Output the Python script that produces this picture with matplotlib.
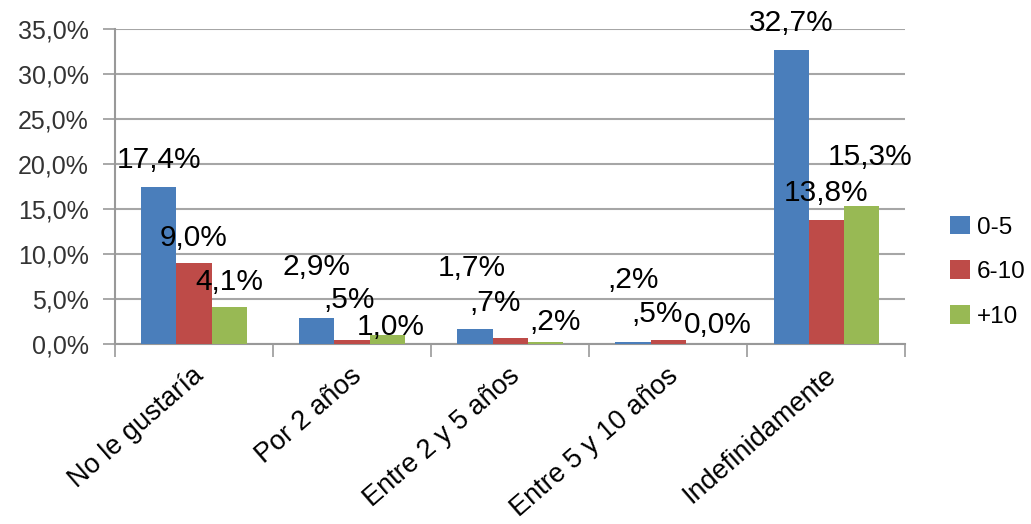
import numpy as np
import matplotlib.pyplot as plt
from matplotlib.ticker import FuncFormatter

plt.rcParams['font.family'] = ['Liberation Sans', 'DejaVu Sans']

# datos
categorias = ['No le gustaría', 'Por 2 años', 'Entre 2 y 5 años', 'Entre 5 y 10 años', 'Indefinidamente']
series = ['0-5', '6-10', '+10']
v_0_5 = [17.4, 2.9, 1.7, 0.2, 32.7]
v_6_10 = [9.0, 0.5, 0.7, 0.5, 13.8]
v_mas10 = [4.1, 1.0, 0.2, 0.0, 15.3]
valores = [v_0_5, v_6_10, v_mas10]

colores = ['#4A7EBB', '#BE4B48', '#98B954']

# desplazamiento de cada etiqueta respecto a la punta de su barra (pixeles)
desp = [
    [(0, 27), (0, 51), (-3, 61), (0, 62), (0, 27)],
    [(0, 25), (-3, 40), (-15, 35), (-11, 26), (0, 27)],
    [(0, 25), (4, 8), (10, 20), (15, 19), (9, 49)],
]


def etiqueta(v):
    s = f'{v:.1f}'.replace('.', ',')
    if s.startswith('0,') and v > 0:
        s = s[1:]
    return s + '%'


fig = plt.figure(figsize=(10.31, 5.24), dpi=100)
ax = fig.add_axes([0.1115, 0.3435, 0.7665, 0.6012])

x = np.arange(len(categorias))
ancho = 1 / 4.5
for i, (serie, vals) in enumerate(zip(series, valores)):
    pos = x + (i - 1) * ancho
    ax.bar(pos, vals, width=ancho, color=colores[i], label=serie, zorder=3)
    for j, v in enumerate(vals):
        dx, dy = desp[i][j]
        ax.annotate(etiqueta(v), (pos[j], v), xytext=(dx, dy), textcoords='offset pixels',
                    ha='center', va='center', fontsize=21.5, color='black', zorder=4)

ax.set_xlim(-0.5, len(categorias) - 0.5)
ax.set_ylim(0, 35)
ax.set_yticks(np.arange(0, 36, 5))
ax.yaxis.set_major_formatter(FuncFormatter(lambda v, p: f'{v:.1f}'.replace('.', ',') + '%'))
ax.tick_params(axis='y', labelsize=18, labelcolor='#333333', length=9, width=1.2,
               color='#999999', pad=10)
ax.grid(axis='y', color='#A6A6A6', linewidth=1.5, zorder=0)

# marcas entre categorias
ax.set_xticks(np.arange(-0.5, len(categorias), 1))
ax.set_xticklabels([])
ax.tick_params(axis='x', length=9, width=1.2, color='#999999')
for j, c in enumerate(categorias):
    ax.text(j + 0.04, -0.09, c, transform=ax.get_xaxis_transform(), rotation=41,
            rotation_mode='anchor', ha='right', va='center', fontsize=19.5, color='black')

for lado in ['top', 'right']:
    ax.spines[lado].set_visible(False)
for lado in ['left', 'bottom']:
    ax.spines[lado].set_color('#999999')
    ax.spines[lado].set_linewidth(1.5)

ax.legend(loc='center left', bbox_to_anchor=(1.057, 0.229), frameon=False, fontsize=17.5,
          handlelength=0.8, handleheight=0.8, handletextpad=0.3, labelspacing=0.9,
          borderaxespad=0, borderpad=0)

fig.savefig('out.png', dpi=100)
